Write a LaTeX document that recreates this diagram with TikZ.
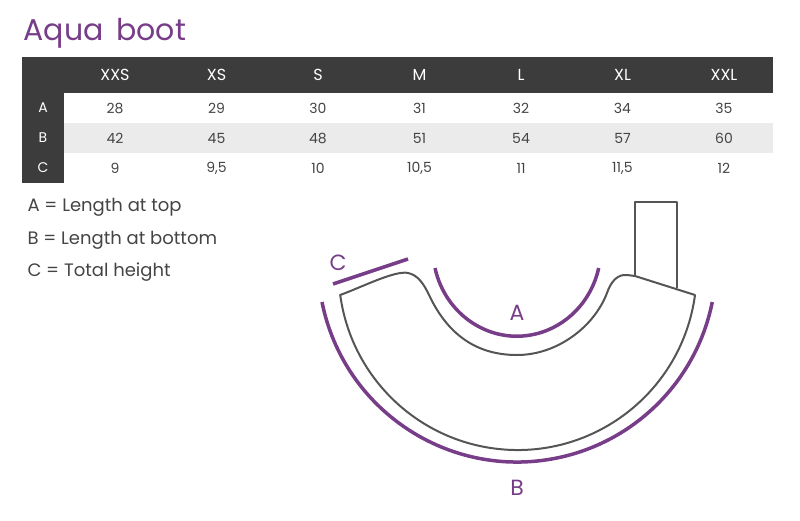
\documentclass[tikz,border=0pt]{standalone}
\usepackage{fontspec}
\setmainfont{Poppins}
\definecolor{purp}{HTML}{773D88}
\definecolor{dark}{HTML}{3C3C3D}
\definecolor{lgray}{HTML}{EBEBEB}
\definecolor{txt}{HTML}{444444}
\definecolor{line}{HTML}{555555}
\begin{document}
\begin{tikzpicture}[x=1pt,y=-1pt,
  hdr/.style={text=white,font=\fontsize{16}{16}\selectfont},
  cell/.style={text=txt,font=\fontsize{14}{14}\selectfont},
  rowl/.style={text=white,font=\fontsize{14}{14}\selectfont},
  leg/.style={text=txt,font=\fontsize{18}{18}\selectfont,anchor=west},
  lbl/.style={text=purp,font=\fontsize{22}{22}\selectfont},
  boot/.style={draw=line,line width=2pt,line join=round},
  meas/.style={draw=purp,line width=3.5pt}]
\useasboundingbox (0,0) rectangle (800,520);
\node[text=purp,font=\fontsize{30}{30}\selectfont,anchor=west] (title) at (20,33) {Aqua\, boot};
% table
\fill[dark] (22,57) rectangle (773,93);
\fill[lgray] (64,123) rectangle (773,153);
\fill[dark] (22,93) rectangle (64,183);
\foreach \s [count=\i] in {XXS,XS,S,M,L,XL,XXL}{
  \node[hdr] (h\i) at ({115+(\i-1)*101.5},75) {\s};}
\node[rowl] (ra) at (43,108) {A};
\node[rowl] (rb) at (43,138) {B};
\node[rowl] (rc) at (43,168) {C};
\foreach \v [count=\i] in {28,29,30,31,32,34,35}{
  \node[cell] (a\i) at ({115+(\i-1)*101.5},108) {\v};}
\foreach \v [count=\i] in {42,45,48,51,54,57,60}{
  \node[cell] (b\i) at ({115+(\i-1)*101.5},138) {\v};}
\foreach \v [count=\i] in {9,{9,5},10,{10,5},11,{11,5},12}{
  \node[cell] (c\i) at ({115+(\i-1)*101.5},168) {\v};}
% legend
\node[leg] (la) at (24,207) {A = Length at top};
\node[leg] (lb) at (24,240) {B = Length at bottom};
\node[leg] (lc) at (24,272) {C = Total height};
% boot
\draw[boot] (635,276) -- (635,202) -- (677,202) -- (677,288);
\draw[boot] (340,295) .. controls (360,288) and (395,270) .. (408,273)
  .. controls (418,275) and (424,284) .. (430,297)
  .. controls (450,338) and (480,355) .. (517,355)
  .. controls (557,355) and (594,327) .. (607,293)
  .. controls (611,281) and (618,274) .. (627,275)
  -- (635,276) -- (695,295)
  arc[start angle=7.7,end angle=172.3,radius=179] -- cycle;
% measures
\draw[meas] (322,302) arc[start angle=168.7,end angle=11.3,radius=199];
\draw[meas] (435,268) arc[start angle=167,end angle=13,x radius=84,y radius=88];
\coordinate (c1) at (333,284);
\coordinate (c2) at (408,259);
\draw[meas] (c1) -- (c2);
\node[lbl] (A) at (517,313) {A};
\node[lbl] (B) at (517,488) {B};
\node[lbl] (C) at (338,263) {C};
\end{tikzpicture}
\end{document}
